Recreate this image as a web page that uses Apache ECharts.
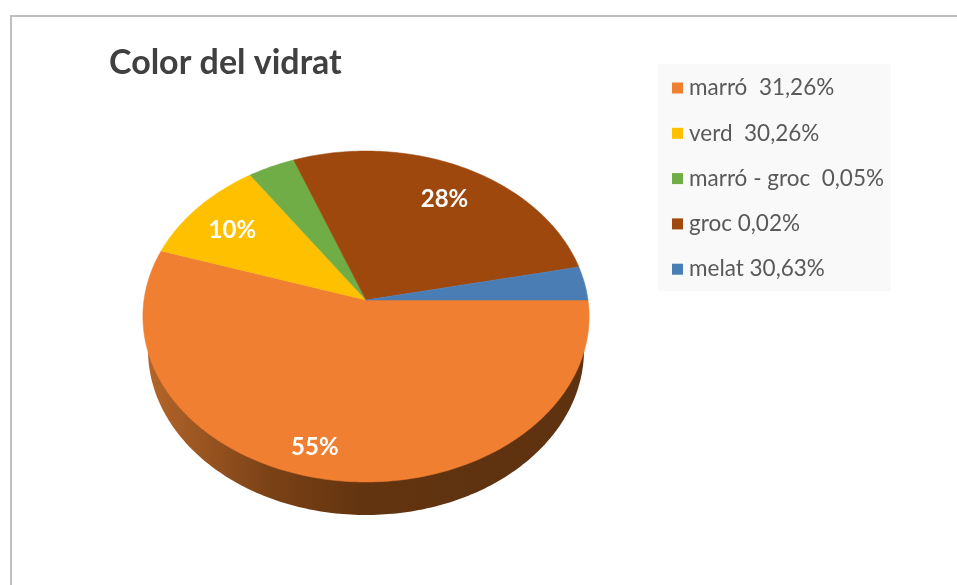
<!DOCTYPE html>
<html><head><meta charset="utf-8">
<style>html,body{margin:0;padding:0;background:#fff}#c{width:957px;height:585px}</style>
<script src="https://cdn.jsdelivr.net/npm/echarts@6/dist/echarts.min.js"></script>
</head><body><div id="c"></div>
<script>
const titleText = 'Color del vidrat';
const categories = ['marró', 'verd', 'marró - groc', 'groc', 'melat'];
const legendLabels = ['marró  31,26%', 'verd  30,26%', 'marró - groc  0,05%', 'groc 0,02%', 'melat 30,63%'];
const shares = [55, 10.45, 3.75, 27.5, 3.3];
const sliceColors = ['#F07F31', '#FFC000', '#70AD47', '#9E480E', '#4B7DB5'];
const labelled = [true, true, false, true, false];
const labelNudge = [[-21, 7], [2, 5], [0, 0], [-1, 7], [0, 0]];

// perspective view of the pie's top face and the rim below it
const view = { cx: 366, cy: 300, rx: 222, sy: 163.85, k: 0.0997 };
const rim = { cx: 366, cy: 350, rx: 218, ry: 165 };
const total = shares.reduce((a, b) => a + b, 0);

function project(angle, r) {
  const u = r * Math.cos(angle), v = r * Math.sin(angle);
  const d = 1 - view.k * v;
  return [view.cx + view.rx * u / d, view.cy + view.sy * v / d];
}
function sliceRender(i) {
  return function (params, api) {
    const before = shares.slice(0, i).reduce((a, b) => a + b, 0);
    const a0 = before / total * 2 * Math.PI;
    const a1 = (before + api.value(0)) / total * 2 * Math.PI;
    const pts = [project(0, 0)];
    const n = Math.max(8, Math.ceil((a1 - a0) * 60));
    for (let j = 0; j <= n; j++) pts.push(project(a0 + (a1 - a0) * j / n, 1));
    const children = [{
      type: 'polygon', shape: { points: pts },
      style: { fill: sliceColors[i], stroke: sliceColors[i], lineWidth: 0.5 }
    }];
    if (labelled[i]) {
      const p = project((a0 + a1) / 2, 0.8);
      children.push({
        type: 'text', z2: 10,
        style: {
          text: Math.round(api.value(0)) + '%',
          x: p[0] + labelNudge[i][0], y: p[1] + labelNudge[i][1],
          align: 'center', verticalAlign: 'middle',
          fill: '#fff', font: 'bold 24px Lato, "Open Sans", sans-serif'
        }
      });
    }
    return { type: 'group', children };
  };
}
function rimRender() {
  const pts = [];
  for (let j = 0; j <= 180; j++) {
    const t = j / 180 * Math.PI;
    pts.push([rim.cx + rim.rx * Math.cos(t), rim.cy + rim.ry * Math.sin(t)]);
  }
  return {
    type: 'polygon', shape: { points: pts },
    style: {
      fill: new echarts.graphic.LinearGradient(1, 0, 0, 0, [
        { offset: 0, color: '#5E3110' },
        { offset: 0.5, color: '#62340F' },
        { offset: 0.72, color: '#7A4116' },
        { offset: 1, color: '#B4652A' }
      ])
    }
  };
}
const chart = echarts.init(document.getElementById('c'), null, { renderer: 'canvas' });
chart.setOption({
  animation: false,
  backgroundColor: '#fff',
  title: {
    text: titleText, left: 104, top: 41,
    textStyle: { color: '#404040', fontSize: 34, fontWeight: 'bold', fontFamily: 'Lato, "Open Sans", sans-serif' }
  },
  legend: {
    left: 658, top: 64, orient: 'vertical',
    padding: [12, 7, 10, 14], itemGap: 21.3, itemWidth: 11, itemHeight: 11, icon: 'rect',
    backgroundColor: '#F9F9F9',
    data: legendLabels,
    textStyle: { color: '#595959', fontSize: 22.5, lineHeight: 24, padding: [0, 0, 0, 1], fontFamily: 'Lato, "Open Sans", sans-serif' }
  },
  graphic: [
    { type: 'rect', shape: { x: 10, y: 15, width: 947, height: 2 }, style: { fill: '#BFBFBF' } },
    { type: 'rect', shape: { x: 10, y: 15, width: 2, height: 570 }, style: { fill: '#BFBFBF' } }
  ],
  series: [
    { type: 'custom', name: 'rim', coordinateSystem: 'none', silent: true, data: [[total]], renderItem: rimRender, z: 1 }
  ].concat(categories.map((c, i) => ({
    type: 'custom', name: legendLabels[i], coordinateSystem: 'none', silent: true,
    itemStyle: { color: sliceColors[i] }, data: [[shares[i]]], renderItem: sliceRender(i), z: 2
  })))
});
</script></body></html>
